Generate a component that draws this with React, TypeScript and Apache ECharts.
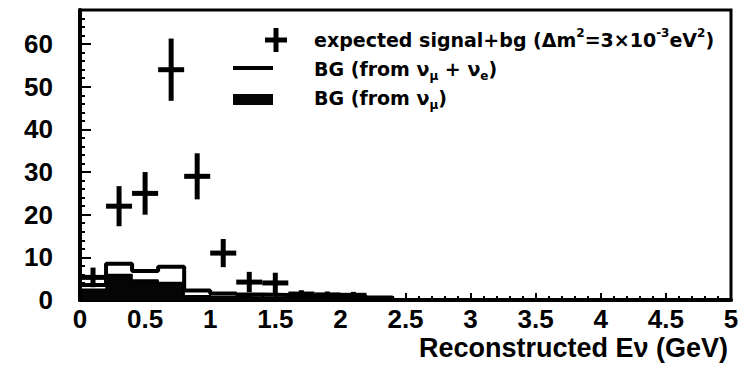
import React, { useEffect, useRef } from "react";
import * as echarts from "echarts";

// Energy bins of the background histograms (GeV)
const binEdges = [0, 0.2, 0.4, 0.6, 0.8, 1.0, 1.2, 1.4, 1.6, 1.8, 2.0, 2.2, 2.4];
// BG from numu + nue (open histogram)
const bgAll = [3.5, 8.5, 6.8, 7.8, 2.2, 1.5, 1.3, 1.2, 1.0, 0.9, 0.8, 0.6];
// BG from numu only (filled histogram)
const bgNumu = [2.5, 6.0, 4.7, 4.1, 1.0, 0.8, 0.7, 0.6, 0.5, 0.4, 0.3, 0.2];

// Expected signal + background points with statistical errors
const pointE = [0.1, 0.3, 0.5, 0.7, 0.9, 1.1, 1.3, 1.5, 1.7, 1.9, 2.1];
const pointN = [5.3, 22, 25, 54, 29, 11, 4.2, 4.0, 1.4, 1.2, 1.1];
const pointErr = [2.3, 4.7, 5.0, 7.3, 5.4, 3.3, 2.4, 2.4, 0.9, 0.8, 0.8];
const halfBin = 0.1;

const xTicks = { min: 0, max: 5, interval: 0.5 };
const yTicks = { min: 0, max: 68, interval: 10 };

// Legend labels as rich-text tokens (base / sup / sub)
const legendLabels = [
  "{base|expected signal+bg (Δm}{sup|2}{base|=3×10}{sup|-3}{base|eV}{sup|2}{base|)}",
  "{base|BG (from ν}{sub|μ}{base| + ν}{sub|e}{base|)}",
  "{base|BG (from ν}{sub|μ}{base|)}",
];
const axisTitle = "Reconstructed Eν (GeV)";

function histData(values: number[]): number[][] {
  const pts: number[][] = [[binEdges[0], 0]];
  values.forEach((v, i) => pts.push([binEdges[i], v]));
  pts.push([binEdges[values.length], 0]);
  return pts;
}

export default function App() {
  const ref = useRef<HTMLDivElement>(null);

  useEffect(() => {
    if (!ref.current) return;
    const chart = echarts.init(ref.current, null, { renderer: "svg" });
    const labelFont = {
      fontFamily: "Liberation Sans",
      fontWeight: "bold" as const,
      fontSize: 26,
      lineHeight: 20,
      color: "#000",
    };
    const rich = {
      base: { fontFamily: "DejaVu Sans", fontWeight: "bold", fontSize: 19, fill: "#000", lineHeight: 26 },
      sup: { fontFamily: "DejaVu Sans", fontWeight: "bold", fontSize: 12, fill: "#000", verticalAlign: "top", lineHeight: 12 },
      sub: { fontFamily: "DejaVu Sans", fontWeight: "bold", fontSize: 12, fill: "#000", verticalAlign: "bottom", lineHeight: 12 },
    };
    const legendRows = [40, 69, 98];
    const textX = 314;

    chart.setOption({
      animation: false,
      backgroundColor: "#fff",
      grid: {
        left: 80,
        right: 12,
        top: 10,
        bottom: 66,
        show: true,
        borderColor: "#000",
        borderWidth: 3,
        outerBoundsMode: "none",
      },
      xAxis: {
        type: "value",
        min: xTicks.min,
        max: xTicks.max,
        interval: xTicks.interval,
        axisLine: { show: true, onZero: false, lineStyle: { color: "#000", width: 4 } },
        axisTick: { show: true, inside: true, length: 7, lineStyle: { color: "#000", width: 2 } },
        minorTick: { show: true, splitNumber: 5, length: 4, lineStyle: { color: "#000", width: 2 } },
        splitLine: { show: false },
        axisLabel: { ...labelFont, margin: 9 },
      },
      yAxis: {
        type: "value",
        min: yTicks.min,
        max: yTicks.max,
        interval: yTicks.interval,
        axisLine: { show: true, onZero: false, lineStyle: { color: "#000", width: 4 } },
        axisTick: { show: true, inside: true, length: 11, lineStyle: { color: "#000", width: 2 } },
        minorTick: { show: true, splitNumber: 5, length: 5, lineStyle: { color: "#000", width: 2 } },
        splitLine: { show: false },
        axisLabel: {
          ...labelFont,
          margin: 27,
          formatter: (v: number) => (v % 10 === 0 ? String(v) : ""),
        },
      },
      series: [
        {
          name: "BG (from numu)",
          type: "line",
          step: "end",
          data: histData(bgNumu),
          showSymbol: false,
          lineStyle: { color: "#000", width: 1.5 },
          areaStyle: { color: "#050505", opacity: 1 },
          z: 2,
        },
        {
          name: "BG (from numu + nue)",
          type: "line",
          step: "end",
          data: histData(bgAll),
          showSymbol: false,
          lineStyle: { color: "#000", width: 4 },
          z: 3,
        },
        {
          name: "expected signal+bg",
          type: "custom",
          data: pointE.map((x, i) => [x, pointN[i], pointErr[i]]),
          encode: { x: 0, y: 1 },
          clip: true,
          z: 4,
          renderItem: (_params: any, api: any) => {
            const x = api.value(0);
            const y = api.value(1);
            const e = api.value(2);
            const c = api.coord([x, y]);
            const top = api.coord([x, y + e]);
            const bot = api.coord([x, Math.max(0, y - e)]);
            const l = api.coord([x - halfBin, y]);
            const r = api.coord([x + halfBin, y]);
            const style = { stroke: "#000", lineWidth: 5 };
            return {
              type: "group",
              children: [
                { type: "line", shape: { x1: c[0], y1: top[1], x2: c[0], y2: bot[1] }, style },
                { type: "line", shape: { x1: l[0], y1: c[1], x2: r[0], y2: c[1] }, style },
              ],
            };
          },
        },
      ],
      graphic: [
        // legend: cross marker
        { type: "line", shape: { x1: 276, y1: 28, x2: 276, y2: 52 }, style: { stroke: "#000", lineWidth: 5 } },
        { type: "line", shape: { x1: 265, y1: 40, x2: 287, y2: 40 }, style: { stroke: "#000", lineWidth: 5 } },
        // legend: open histogram line
        { type: "rect", shape: { x: 233, y: 66, width: 40, height: 4 }, style: { fill: "#000" } },
        // legend: filled histogram
        { type: "rect", shape: { x: 233, y: 94, width: 40, height: 11 }, style: { fill: "#050505" } },
        ...legendLabels.map((t, i) => ({
          type: "text",
          x: textX,
          y: legendRows[i],
          style: { text: t, rich, verticalAlign: "middle", align: "left" },
        })),
        {
          type: "text",
          x: 728,
          y: 348,
          style: {
            text: axisTitle,
            fontFamily: "Liberation Sans",
            fontWeight: "bold",
            fontSize: 27,
            lineHeight: 20,
            fill: "#000",
            align: "right",
            verticalAlign: "middle",
          },
        },
      ],
    });
    return () => chart.dispose();
  }, []);

  return (
    <div
      ref={ref}
      style={{ position: "fixed", left: 0, top: 0, width: 743, height: 366, background: "#fff" }}
    />
  );
}
